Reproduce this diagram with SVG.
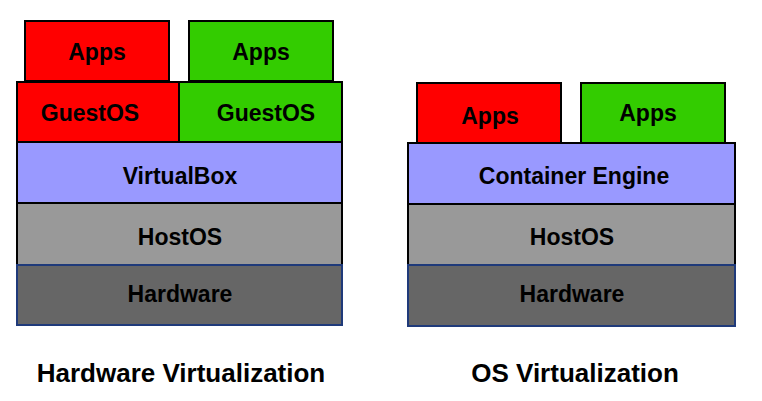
<svg xmlns="http://www.w3.org/2000/svg" width="762" height="401" viewBox="0 0 762 401">
<style>
rect{stroke:#000;stroke-width:2}
.r{fill:#ff0000}.g{fill:#33cc00}.b{fill:#9999ff}.h{fill:#999999}
.hw{fill:#666666;stroke:#1f3a7a}
text{font-family:"Liberation Sans",Arial,sans-serif;font-weight:bold;font-size:23px;fill:#000;text-anchor:middle;dominant-baseline:central}
.t{font-size:26px}
</style>
<rect width="762" height="401" fill="#fff" style="stroke:none"/>
<g id="hv">
<g id="hv-apps-red"><rect class="r" x="25" y="21" width="144" height="60"/><text x="97" y="52">Apps</text></g>
<g id="hv-apps-green"><rect class="g" x="189" y="21" width="144" height="60"/><text x="261" y="52">Apps</text></g>
<g id="hv-guest-red"><rect class="r" x="17" y="82" width="162" height="60"/><text x="90" y="113">GuestOS</text></g>
<g id="hv-guest-green"><rect class="g" x="179" y="82" width="163" height="60"/><text x="266" y="113">GuestOS</text></g>
<g id="hv-vbox"><rect class="b" x="17" y="142" width="325" height="61"/><text x="180" y="176">VirtualBox</text></g>
<g id="hv-host"><rect class="h" x="17" y="203" width="325" height="62"/><text x="180" y="237">HostOS</text></g>
<g id="hv-hw"><rect class="hw" x="17" y="265" width="325" height="60"/><text x="180" y="294">Hardware</text></g>
<text class="t" x="181" y="373">Hardware Virtualization</text>
</g>
<g id="osv">
<g id="os-apps-red"><rect class="r" x="417" y="83" width="144" height="60"/><text x="490" y="116">Apps</text></g>
<g id="os-apps-green"><rect class="g" x="581" y="83" width="144" height="60"/><text x="648" y="113">Apps</text></g>
<g id="os-engine"><rect class="b" x="408" y="143" width="327" height="61"/><text x="574" y="176">Container Engine</text></g>
<g id="os-host"><rect class="h" x="408" y="204" width="327" height="61"/><text x="572" y="237">HostOS</text></g>
<g id="os-hw"><rect class="hw" x="408" y="265" width="327" height="61"/><text x="572" y="294">Hardware</text></g>
<text class="t" x="575" y="373">OS Virtualization</text>
</g>
<g id="connectors"/>
</svg>
